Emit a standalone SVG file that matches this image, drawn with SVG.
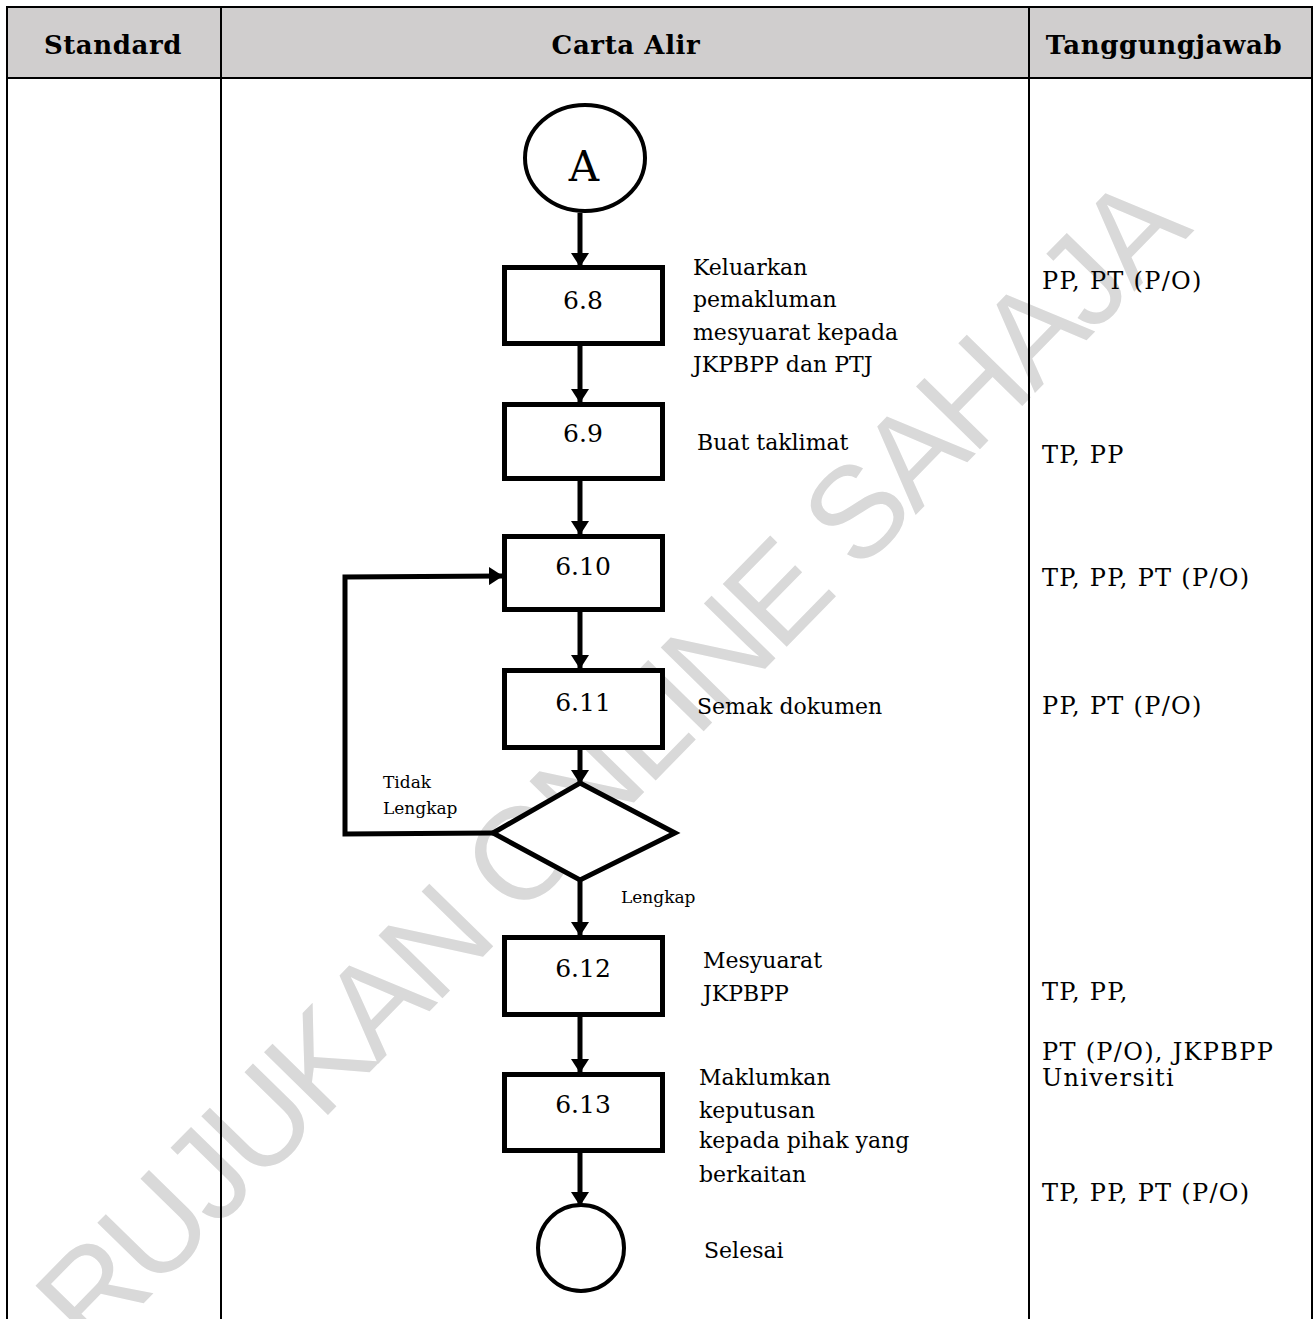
<svg xmlns="http://www.w3.org/2000/svg" width="1315" height="1319" viewBox="0 0 1315 1319">
<style>
.tbl{stroke:#000;stroke-width:2;fill:none}
.hdr{font-family:"DejaVu Serif",serif;font-weight:bold;font-size:26px;fill:#000;text-anchor:middle;letter-spacing:0.6px}
.box{fill:#fff;stroke:#000;stroke-width:5}
.num{font-family:"DejaVu Serif",serif;font-size:25px;fill:#000;text-anchor:middle}
.lbl{font-family:"DejaVu Serif",serif;font-size:22px;fill:#000}
.sm{font-family:"DejaVu Serif",serif;font-size:17px;fill:#000}
.resp{font-family:"DejaVu Serif",serif;font-size:24px;fill:#000;letter-spacing:1.3px}
.con{stroke:#000;stroke-width:5;fill:none}
.wm{font-family:"Liberation Sans",Arial,sans-serif;font-size:130px;fill:#d9d9d9;letter-spacing:-5px}
</style>
<defs>
<marker id="arr" markerUnits="userSpaceOnUse" markerWidth="14" markerHeight="18" refX="13" refY="9" orient="auto" viewBox="0 0 14 18">
<path d="M0,0 L14,9 L0,18 z" fill="#000"/>
</marker>
</defs>
<rect width="1315" height="1319" fill="#fff"/>
<g id="header">
<rect x="7" y="7" width="1305" height="71" fill="#d0cece"/>
<text class="hdr" x="113" y="54">Standard</text>
<text class="hdr" x="626" y="54">Carta Alir</text>
<text class="hdr" x="1164" y="54">Tanggungjawab</text>
</g>
<text class="wm" transform="translate(92,1356) rotate(-45.6)">RUJUKAN ONLINE SAHAJA</text>
<g id="table">
<line class="tbl" x1="6" y1="7" x2="1313" y2="7"/>
<line class="tbl" x1="6" y1="78" x2="1313" y2="78"/>
<line class="tbl" x1="7" y1="6" x2="7" y2="1319"/>
<line class="tbl" x1="221" y1="6" x2="221" y2="1319"/>
<line class="tbl" x1="1029" y1="6" x2="1029" y2="1319"/>
<line class="tbl" x1="1312" y1="6" x2="1312" y2="1319"/>
</g>
<g id="connectors">
<line class="con" x1="580" y1="213" x2="580" y2="266" marker-end="url(#arr)"/>
<line class="con" x1="580" y1="346" x2="580" y2="402" marker-end="url(#arr)"/>
<line class="con" x1="580" y1="481" x2="580" y2="534" marker-end="url(#arr)"/>
<line class="con" x1="580" y1="612" x2="580" y2="668" marker-end="url(#arr)"/>
<line class="con" x1="580" y1="750" x2="580" y2="783" marker-end="url(#arr)"/>
<line class="con" x1="580" y1="880" x2="580" y2="935" marker-end="url(#arr)"/>
<line class="con" x1="580" y1="1017" x2="580" y2="1072" marker-end="url(#arr)"/>
<line class="con" x1="580" y1="1153" x2="580" y2="1205" marker-end="url(#arr)"/>
<polyline class="con" points="493,833 345,834 345,577 502,576" marker-end="url(#arr)"/>
</g>
<g id="start">
<ellipse cx="585" cy="158" rx="60" ry="53" fill="#fff" stroke="#000" stroke-width="4"/>
<text x="584" y="181" font-family="DejaVu Serif,serif" font-size="42" text-anchor="middle">A</text>
</g>
<g id="n6_8">
<rect class="box" x="504.5" y="267.5" width="158" height="76"/>
<text class="num" x="583" y="309">6.8</text>
<text class="lbl" x="693" y="275">Keluarkan</text>
<text class="lbl" x="693" y="307">pemakluman</text>
<text class="lbl" x="693" y="340">mesyuarat kepada</text>
<text class="lbl" x="693" y="372">JKPBPP dan PTJ</text>
</g>
<g id="n6_9">
<rect class="box" x="504.5" y="404.5" width="158" height="74"/>
<text class="num" x="583" y="442">6.9</text>
<text class="lbl" x="697" y="450">Buat taklimat</text>
</g>
<g id="n6_10">
<rect class="box" x="504.5" y="536.5" width="158" height="73"/>
<text class="num" x="583" y="575">6.10</text>
</g>
<g id="n6_11">
<rect class="box" x="504.5" y="670.5" width="158" height="77"/>
<text class="num" x="583" y="711">6.11</text>
<text class="lbl" x="697" y="714">Semak dokumen</text>
</g>
<g id="decision">
<polygon points="580,783 675,833 580,880 493,833" fill="#fff" stroke="#000" stroke-width="5" stroke-linejoin="miter"/>
<text class="sm" x="383" y="788">Tidak</text>
<text class="sm" x="383" y="814">Lengkap</text>
<text class="sm" x="621" y="903">Lengkap</text>
</g>
<g id="n6_12">
<rect class="box" x="504.5" y="937.5" width="158" height="77"/>
<text class="num" x="583" y="977">6.12</text>
<text class="lbl" x="703" y="968">Mesyuarat</text>
<text class="lbl" x="703" y="1001">JKPBPP</text>
</g>
<g id="n6_13">
<rect class="box" x="504.5" y="1074.5" width="158" height="76"/>
<text class="num" x="583" y="1113">6.13</text>
<text class="lbl" x="699" y="1085">Maklumkan</text>
<text class="lbl" x="699" y="1118">keputusan</text>
<text class="lbl" x="699" y="1148">kepada pihak yang</text>
<text class="lbl" x="699" y="1182">berkaitan</text>
</g>
<g id="end">
<circle cx="581" cy="1248" r="43" fill="#fff" stroke="#000" stroke-width="4"/>
<text class="lbl" x="704" y="1258">Selesai</text>
</g>
<g id="responsibility">
<text class="resp" x="1042" y="289">PP, PT (P/O)</text>
<text class="resp" x="1042" y="463">TP, PP</text>
<text class="resp" x="1042" y="586">TP, PP, PT (P/O)</text>
<text class="resp" x="1042" y="714">PP, PT (P/O)</text>
<text class="resp" x="1042" y="1000">TP, PP,</text>
<text class="resp" x="1042" y="1060">PT (P/O), JKPBPP</text>
<text class="resp" x="1042" y="1086">Universiti</text>
<text class="resp" x="1042" y="1201">TP, PP, PT (P/O)</text>
</g>
</svg>
